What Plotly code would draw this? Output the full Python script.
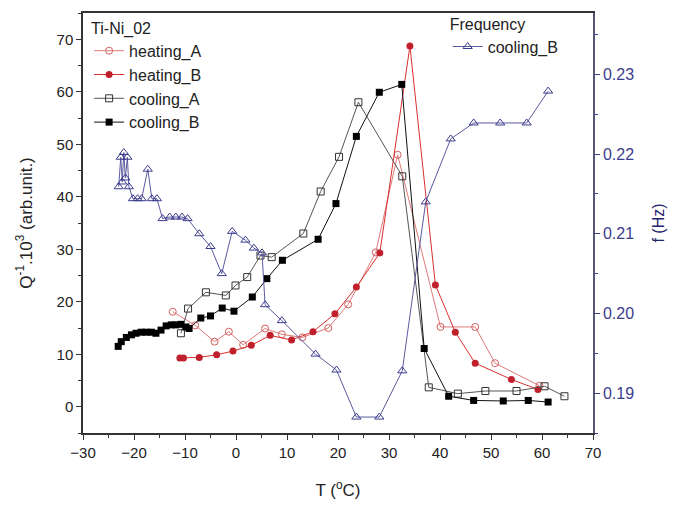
import plotly.graph_objects as go

# heating_A (open circles)
hA_T = [-12.4, -8.0, -4.2, -1.4, 1.4, 5.7, 9.0, 13.0, 18.1, 22.0, 27.4, 31.7, 40.1, 46.9, 50.8, 59.5]
hA_Q = [18.1, 15.5, 12.4, 14.3, 11.8, 14.9, 13.8, 13.2, 15.0, 19.5, 29.4, 48.0, 15.2, 15.2, 8.3, 4.0]

# heating_B (filled circles)
hB_T = [-11.0, -10.3, -7.2, -3.8, -0.6, 3.0, 6.7, 10.9, 15.1, 19.4, 23.6, 28.2, 34.1, 39.1, 43.0, 46.9, 54.0, 59.2]
hB_Q = [9.3, 9.3, 9.4, 9.9, 10.6, 11.7, 13.6, 12.7, 14.3, 17.7, 22.8, 29.3, 68.7, 23.2, 14.2, 8.3, 5.2, 3.3]

# cooling_A (open squares)
cA_T = [-10.8, -9.4, -5.9, -2.0, -0.1, 2.2, 4.8, 7.0, 13.2, 16.6, 20.2, 24.0, 32.6, 37.8, 43.5, 48.9, 55.0, 60.5, 64.4]
cA_Q = [14.0, 18.7, 21.8, 21.2, 23.1, 24.7, 28.8, 28.5, 33.0, 41.0, 47.6, 58.0, 43.9, 3.7, 2.5, 3.0, 3.0, 3.9, 2.0]

# cooling_B (filled squares)
cB_T = [-23.1, -22.5, -21.5, -20.5, -19.6, -18.6, -17.6, -16.6, -15.7, -14.7, -13.7, -12.7, -11.8, -10.8,
        -9.8, -9.2, -6.9, -5.0, -2.7, -0.4, 3.2, 6.05, 9.1, 16.1, 19.6, 23.6, 28.1, 32.5, 36.9, 41.7, 46.6,
        52.4, 57.3, 61.2]
cB_Q = [11.5, 12.4, 13.2, 13.7, 14.0, 14.2, 14.2, 14.2, 14.0, 14.6, 15.4, 15.6, 15.6, 15.7,
        15.2, 14.9, 16.9, 17.3, 18.8, 18.2, 20.9, 24.4, 27.9, 31.9, 38.7, 51.5, 59.9, 61.4, 11.1, 2.0, 1.2,
        1.1, 1.2, 0.9]

# Frequency, cooling_B (open triangles, right axis)
fB_T = [-23.0, -22.6, -22.3, -22.0, -21.7, -21.3, -21.0, -20.2, -19.3, -18.5, -17.3, -16.5, -15.5, -14.4,
        -13.0, -11.8, -10.6, -9.5, -7.2, -5.0, -2.8, -0.75, 1.85, 3.5, 5.1, 5.7, 9.0, 15.6, 19.7, 23.6,
        28.1, 32.6, 37.2, 42.1, 46.6, 51.8, 57.0, 61.2]
fB_f = [0.2159, 0.2196, 0.2165, 0.2202, 0.2170, 0.2196, 0.2159, 0.2144, 0.2144, 0.2144, 0.2181, 0.2144,
        0.2144, 0.2119, 0.2121, 0.2121, 0.2121, 0.2119, 0.2100, 0.2084, 0.2050, 0.2103, 0.2092, 0.2082,
        0.2076, 0.2011, 0.1991, 0.1949, 0.1929, 0.1870, 0.1870, 0.1928, 0.2140, 0.2219, 0.2239, 0.2239,
        0.2239, 0.2279]

x_ticks = [-30, -20, -10, 0, 10, 20, 30, 40, 50, 60, 70]
yl_ticks = [0, 10, 20, 30, 40, 50, 60, 70]
yr_ticks = [0.19, 0.20, 0.21, 0.22, 0.23]

FONT = "Liberation Sans, Arial, sans-serif"
BLUE = "#3c3c8e"

fig = go.Figure()

fig.add_trace(go.Scatter(
    x=fB_T, y=fB_f, yaxis="y2", name="cooling_B", legend="legend2", mode="lines+markers",
    line=dict(color="#5a5aa0", width=1),
    marker=dict(symbol="triangle-up-open", size=8, color=BLUE, line=dict(width=1))))

fig.add_trace(go.Scatter(
    x=hA_T, y=hA_Q, name="heating_A", mode="lines+markers",
    line=dict(color="#e07a7a", width=1),
    marker=dict(symbol="circle-open", size=7, color="#d06060", line=dict(width=1))))
fig.add_trace(go.Scatter(
    x=hB_T, y=hB_Q, name="heating_B", mode="lines+markers",
    line=dict(color="#d93030", width=1),
    marker=dict(symbol="circle", size=7, color="#c0202c")))
fig.add_trace(go.Scatter(
    x=cA_T, y=cA_Q, name="cooling_A", mode="lines+markers",
    line=dict(color="#555555", width=1),
    marker=dict(symbol="square-open", size=7, color="#333333", line=dict(width=1))))
fig.add_trace(go.Scatter(
    x=cB_T, y=cB_Q, name="cooling_B", mode="lines+markers",
    line=dict(color="#111111", width=1),
    marker=dict(symbol="square", size=7, color="#000000")))

fig.update_layout(
    width=674, height=507,
    margin=dict(l=83, r=77, t=9, b=74),
    paper_bgcolor="white", plot_bgcolor="white",
    font=dict(family=FONT, size=15, color="#222222"),
    showlegend=True,
    xaxis=dict(range=[-30, 70], tickvals=x_ticks, ticks="outside", ticklen=5, tickcolor="#333",
               showline=True, linecolor="#333", linewidth=1.5, mirror=True, showgrid=False, zeroline=False,
               minor=dict(dtick=5, tick0=0, ticks="outside", ticklen=3, tickcolor="#333"),
               title=dict(text="T (<sup>o</sup>C)", standoff=24, font=dict(size=17)),
               tickfont=dict(size=15)),
    yaxis=dict(range=[-5, 75], tickvals=yl_ticks, ticks="outside", ticklen=5, tickcolor="#333",
               showline=True, linecolor="#333", linewidth=1.5, showgrid=False, zeroline=False,
               minor=dict(dtick=5, tick0=0, ticks="outside", ticklen=3, tickcolor="#333"),
               title=dict(text="Q<sup>-1</sup>.10<sup>3</sup> (arb.unit.)", standoff=20, font=dict(size=17)),
               tickfont=dict(size=15)),
    yaxis2=dict(range=[0.185, 0.2377], overlaying="y", side="right", tickvals=yr_ticks,
                tickformat=".2f", ticks="outside", ticklen=5, tickcolor=BLUE,
                showline=True, linecolor="#555577", linewidth=1.5, showgrid=False, zeroline=False,
                minor=dict(dtick=0.005, tick0=0.19, ticks="outside", ticklen=3, tickcolor=BLUE),
                tickfont=dict(color=BLUE, size=16),
                title=dict(text="f (Hz)", font=dict(color="#22226e", size=16), standoff=20)),
    legend=dict(x=0.012, y=1.0, xanchor="left", yanchor="top", bgcolor="rgba(0,0,0,0)",
                title=dict(text="Ti-Ni_02", font=dict(size=16)), font=dict(size=16),
                itemwidth=30, tracegroupgap=0),
    legend2=dict(x=0.715, y=1.01, xanchor="left", yanchor="top", bgcolor="rgba(0,0,0,0)",
                 title=dict(text="Frequency", font=dict(size=16)), font=dict(size=16)),
)

fig.write_html("out.html", config={"displayModeBar": False},
               post_script="document.body.style.margin='0';document.body.style.padding='0';")
